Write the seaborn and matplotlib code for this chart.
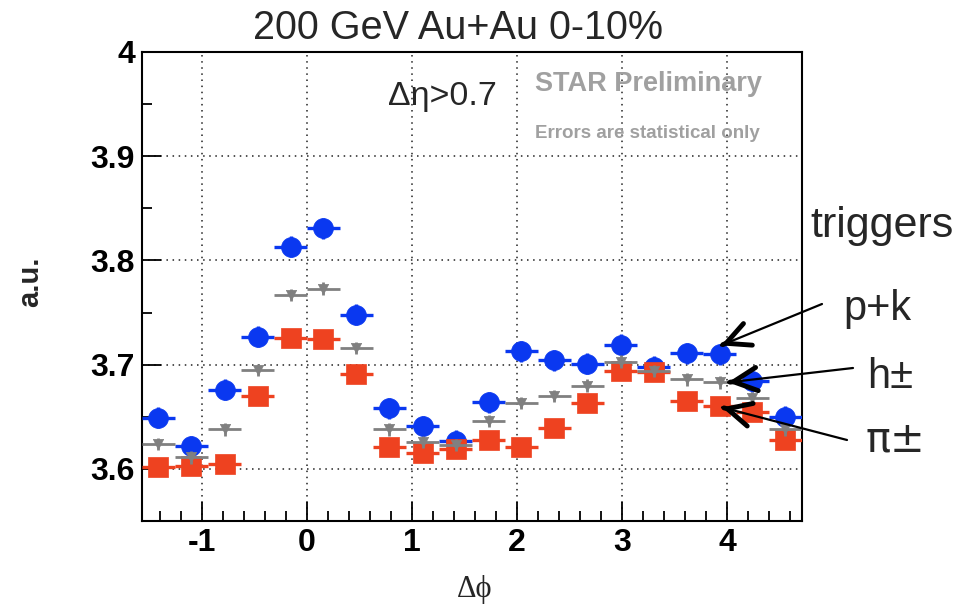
import numpy as np
import pandas as pd
import matplotlib
matplotlib.use("Agg")
import matplotlib.pyplot as plt
from matplotlib.ticker import MultipleLocator
import seaborn as sns

# Δφ bin centres (20 bins of width π/10 spanning [-π/2, 3π/2])
dphi = [-1.414, -1.100, -0.785, -0.471, -0.157, 0.157, 0.471, 0.785, 1.100, 1.414,
        1.728, 2.042, 2.356, 2.670, 2.985, 3.299, 3.613, 3.927, 4.241, 4.555]
bin_half_width = 0.157

# associated-particle yields for each trigger species
yield_pk = [3.649, 3.622, 3.676, 3.727, 3.813, 3.831, 3.748, 3.658, 3.641, 3.627,
            3.664, 3.713, 3.704, 3.701, 3.719, 3.698, 3.711, 3.710, 3.684, 3.650]
yield_h = [3.624, 3.611, 3.638, 3.695, 3.767, 3.773, 3.716, 3.638, 3.626, 3.623,
           3.646, 3.663, 3.670, 3.680, 3.703, 3.694, 3.686, 3.683, 3.668, 3.638]
yield_pi = [3.602, 3.603, 3.605, 3.670, 3.726, 3.725, 3.691, 3.621, 3.615, 3.619,
            3.628, 3.621, 3.639, 3.663, 3.694, 3.693, 3.665, 3.660, 3.655, 3.628]

# statistical errors (small compared to marker size)
err_pk = 0.010
err_h = 0.006
err_pi = 0.006

x_ticks = [-1, 0, 1, 2, 3, 4]
y_ticks = [3.6, 3.7, 3.8, 3.9, 4.0]
y_tick_labels = ["3.6", "3.7", "3.8", "3.9", "4"]

sns.set_theme(style="white")
plt.rcParams["font.family"] = ["Liberation Sans", "DejaVu Sans"]
plt.rcParams["axes.unicode_minus"] = False

df = pd.concat([
    pd.DataFrame({"dphi": dphi, "value": yield_pk, "trigger": "p+k"}),
    pd.DataFrame({"dphi": dphi, "value": yield_pi, "trigger": "pi"}),
    pd.DataFrame({"dphi": dphi, "value": yield_h, "trigger": "h"}),
])

styles = {
    "p+k": dict(color="#0a38f0", marker="o", s=205, err=err_pk, lw=2.4, z=3),
    "pi": dict(color="#ee4220", marker="s", s=225, err=err_pi, lw=2.4, z=4),
    "h": dict(color="#808080", marker="v", s=55, err=err_h, lw=2.0, z=5),
}

fig = plt.figure(figsize=(9.72, 6.08), dpi=100)
ax = fig.add_axes([142 / 972, 1 - 521 / 608, 660 / 972, 469 / 608])

for name, st in styles.items():
    sub = df[df["trigger"] == name]
    ax.errorbar(sub["dphi"], sub["value"], xerr=bin_half_width, yerr=st["err"],
                fmt="none", ecolor=st["color"], elinewidth=st["lw"], capsize=0,
                zorder=st["z"])
    sns.scatterplot(data=sub, x="dphi", y="value", color=st["color"],
                    marker=st["marker"], s=st["s"], edgecolor=st["color"],
                    linewidth=0.5, ax=ax, zorder=st["z"] + 0.5, legend=False)

ax.set_xlim(-np.pi / 2, 3 * np.pi / 2)
ax.set_ylim(3.55, 4.0)
ax.set_xticks(x_ticks)
ax.set_xticklabels([str(t) for t in x_ticks])
ax.set_yticks(y_ticks)
ax.set_yticklabels(y_tick_labels)
ax.xaxis.set_minor_locator(MultipleLocator(0.2))
ax.yaxis.set_minor_locator(MultipleLocator(0.05))
ax.tick_params(which="both", direction="in", width=1.3, colors="black",
               bottom=True, left=True, top=False, right=False)
ax.tick_params(which="major", length=14, labelsize=23, pad=5)
ax.tick_params(which="minor", length=7)
for lab in ax.get_xticklabels() + ax.get_yticklabels():
    lab.set_fontweight("bold")

ax.grid(True, which="major", color="#222222", linestyle=(0, (1, 3)), linewidth=1.1)
for sp in ax.spines.values():
    sp.set_visible(True)
    sp.set_color("black")
    sp.set_linewidth(1.5)
ax.set_xlabel("")
ax.set_ylabel("")

def fx(px):
    return px / 972

def fy(py):
    return 1 - py / 608

fig.text(fx(458), fy(28), "200 GeV Au+Au 0-10%", ha="center", va="center", fontsize=28.5)
fig.text(fx(388), fy(105), "Δη>0.7", ha="left", va="baseline", fontsize=24.5)
fig.text(fx(535), fy(91), "STAR Preliminary", ha="left", va="baseline", fontsize=19.5,
         fontweight="bold", color="#a0a0a0")
fig.text(fx(535), fy(138), "Errors are statistical only", ha="left", va="baseline",
         fontsize=13.5, fontweight="bold", color="#a0a0a0")
fig.text(fx(30), fy(282), "a.u.", ha="center", va="center", rotation=90,
         fontsize=21, fontweight="bold")
fig.text(fx(475), fy(590), "Δϕ", ha="center", va="center", fontsize=22,
         family=["Liberation Serif", "DejaVu Serif"])

fig.text(fx(810), fy(237), "triggers", ha="left", va="baseline", fontsize=31)
fig.text(fx(843), fy(320), "p+k", ha="left", va="baseline", fontsize=30)
fig.text(fx(867), fy(388), "h±", ha="left", va="baseline", fontsize=30)
fig.text(fx(865), fy(452), "π±", ha="left", va="baseline", fontsize=30,
         family=["DejaVu Sans"])

# arrows from the trigger labels to their data series
arrows = [
    ((822, 304), (3.941, 3.7185)),
    ((853, 368), (4.008, 3.683)),
    ((847, 440), (3.951, 3.659)),
]
for (tx, ty), (xd, yd) in arrows:
    ax.annotate("", xy=(xd, yd), xycoords="data",
                xytext=(fx(tx), fy(ty)), textcoords="figure fraction",
                arrowprops=dict(arrowstyle="-", lw=1.6, color="black",
                                shrinkA=0, shrinkB=0),
                annotation_clip=False, zorder=10)

# thick open arrow heads drawn at each tip
for (tx, ty), (xd, yd) in arrows:
    tip = ax.transData.transform((xd, yd))
    tail = np.array([tx, 608 - ty], dtype=float)
    d = tail - tip
    d = d / np.hypot(*d)
    start = tip + d * 2.0
    ax.annotate("", xy=tuple(tip), xycoords="figure pixels",
                xytext=tuple(start), textcoords="figure pixels",
                arrowprops=dict(arrowstyle="->,head_length=0.85,head_width=0.42",
                                lw=3.5, color="black", shrinkA=0, shrinkB=0,
                                mutation_scale=20),
                annotation_clip=False, zorder=10)

fig.savefig("out.png", dpi=100, facecolor="white")
